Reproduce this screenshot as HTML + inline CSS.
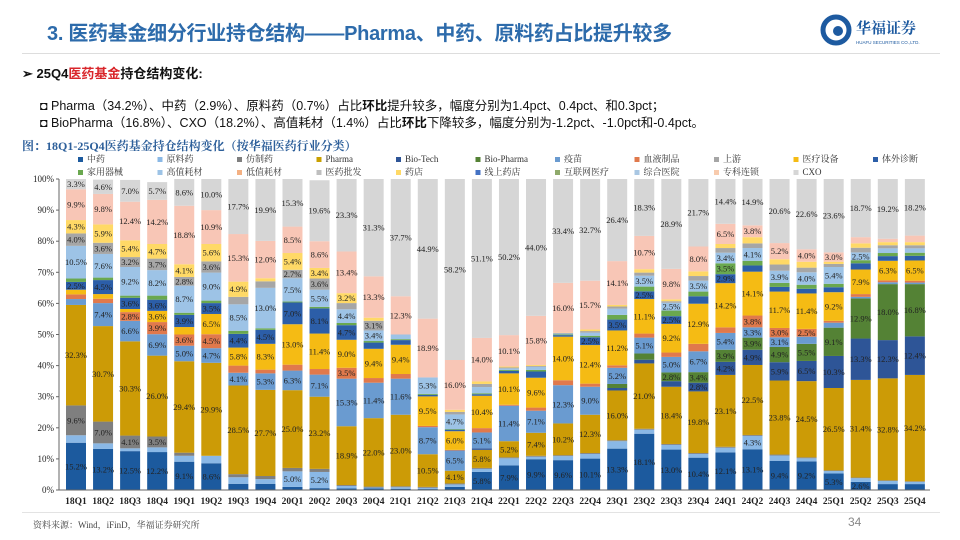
<!DOCTYPE html>
<html><head><meta charset="utf-8">
<style>
body{margin:0;background:#fff;}
#wrap{position:relative;width:960px;height:540px;overflow:hidden;background:#fff;font-family:"Liberation Sans","Noto Sans CJK SC",sans-serif;}
.abs{position:absolute;white-space:nowrap;}
</style></head>
<body>
<div id="wrap">
  <div class="abs" style="left:47px;top:17px;font-size:20px;font-weight:bold;color:#2d6bab;letter-spacing:-0.3px;">3. 医药基金细分行业持仓结构——Pharma、中药、原料药占比提升较多</div>
  <div class="abs" style="left:820px;top:14px;">
    <svg width="120" height="34"><circle cx="16" cy="16" r="13" fill="none" stroke="#1d5aa0" stroke-width="5"/><circle cx="18" cy="17" r="5" fill="#1d5aa0"/>
    <text x="36" y="19" font-size="15" font-weight="bold" fill="#1d5aa0" font-family="Liberation Serif,Noto Serif CJK SC,serif">华福证券</text>
    <text x="36" y="30" font-size="4.5" fill="#1d5aa0" font-family="Liberation Sans,sans-serif">HUAFU SECURITIES CO.,LTD.</text></svg>
  </div>
  <div class="abs" style="left:22px;top:53px;width:918px;height:1px;background:#ddd;"></div>
  <div class="abs" style="left:22px;top:63px;font-size:13px;font-weight:bold;color:#111;">➢ 25Q4<span style="color:#d9262b">医药基金</span>持仓结构变化:</div>
  <div class="abs" style="left:40px;top:95px;font-size:12.5px;color:#111;">◘ Pharma（34.2%）、中药（2.9%）、原料药（0.7%）占比<b>环比</b>提升较多，幅度分别为1.4pct、0.4pct、和0.3pct；</div>
  <div class="abs" style="left:40px;top:112px;font-size:12.5px;color:#111;">◘ BioPharma（16.8%）、CXO（18.2%）、高值耗材（1.4%）占比<b>环比</b>下降较多，幅度分别为-1.2pct、-1.0pct和-0.4pct。</div>
  <div class="abs" style="left:22px;top:137px;font-size:12px;font-weight:bold;color:#2d5f9a;font-family:'Liberation Serif','Noto Serif CJK SC',serif;">图：18Q1-25Q4医药基金持仓结构变化（按华福医药行业分类）</div>
  <svg id="chart" class="abs" style="left:0;top:150px;" width="960" height="360"></svg>
  <div class="abs" style="left:22px;top:512px;width:918px;height:1px;background:#e3e3e3;"></div>
  <div class="abs" style="left:33px;top:518px;font-size:9px;color:#444;font-family:'Liberation Serif','Noto Serif CJK SC',serif;">资料来源：Wind，iFinD，华福证券研究所</div>
  <div class="abs" style="left:848px;top:515px;font-size:12px;color:#888;">34</div>
</div>
<script>
const categories=["18Q1","18Q2","18Q3","18Q4","19Q1","19Q2","19Q3","19Q4","20Q1","20Q2","20Q3","20Q4","21Q1","21Q2","21Q3","21Q4","22Q1","22Q2","22Q3","22Q4","23Q1","23Q2","23Q3","23Q4","24Q1","24Q2","24Q3","24Q4","25Q1","25Q2","25Q3","25Q4"];
const zhongyao=[15.2,13.2,12.5,12.2,9.1,8.6,2.0,2.0,1.0,0.6,0.5,0.5,0.4,0.3,1.0,5.8,7.9,9.9,9.6,10.1,13.3,18.1,13.0,10.4,12.1,13.1,9.4,9.2,5.3,2.6,1.9,1.9];
const yuanliao=[2.4,1.8,0.9,1.5,1.9,2.4,2.1,1.5,5.0,5.2,0.8,0.3,0.5,0.4,0.8,1.0,2.3,0.8,1.3,1.5,2.4,1.3,1.5,1.2,1.5,4.3,1.7,1.0,0.8,1.2,1.0,0.7];
const fangzhi=[9.6,7.0,4.1,3.5,1.0,0,1.0,1.0,1.1,1.0,0.3,0.3,0.3,0.3,0.3,0.3,0.3,0.3,0.3,0.3,0.3,0.3,0.3,0.3,0.3,0.3,0.3,0.3,0.2,0.2,0.2,0.2];
const pharma=[32.3,30.7,30.3,26.0,29.4,29.9,28.5,27.7,25.0,23.2,18.9,22.0,23.0,10.5,4.1,5.8,5.2,7.4,10.2,12.3,16.0,21.0,18.4,19.8,23.1,22.5,23.8,24.5,26.5,31.4,32.8,34.2];
const biotech=[0,0,0,0,0,0,0,0,0,0,0,0,0,0,0,0.5,0,0,0,0,0.8,1.2,1.8,2.8,4.2,4.9,5.9,6.5,10.3,13.3,12.3,12.4];
const biopharma=[0,0,0,0,0,0,0,0,0,0,0,0,0,0,0,0,0,0,0,0,1.3,2.0,2.8,3.4,3.9,3.9,4.9,5.5,9.1,12.9,18.0,16.8];
const vaccine=[1.9,7.4,6.6,6.9,5.0,4.7,4.1,5.3,6.3,7.1,15.3,11.4,11.6,8.7,6.5,5.1,11.4,7.1,12.3,9.0,5.2,5.1,5.0,6.7,5.4,3.3,3.1,2.3,1.6,0.5,0.6,0.5];
const blood=[1.5,1.4,2.8,3.9,3.6,4.5,2.3,1.2,1.9,1.8,3.5,1.5,1.5,0.4,0.2,1.4,0.3,1.0,1.6,1.0,0.8,1.3,1.4,2.4,1.8,3.8,3.0,2.5,0.6,0.9,0.6,0.6];
const device=[1.5,1.5,1.0,3.6,2.4,6.5,5.8,8.3,13.0,11.4,9.0,9.4,9.4,9.5,6.0,10.4,10.1,9.6,14.0,12.4,11.2,11.1,9.2,12.9,14.2,14.1,11.7,11.4,9.2,7.9,6.3,6.5];
const ivd=[2.5,4.5,3.6,3.6,3.9,3.5,4.4,4.5,7.0,8.1,4.7,2.0,1.5,0.5,0.5,0.5,0.8,2.0,0.5,2.5,3.5,2.5,2.5,2.4,2.9,2.0,1.5,1.5,1.6,2.0,1.5,1.5];
const household=[1.1,0.8,0.7,1.3,0.7,0.8,1.0,0.5,0.3,0.5,0.7,0.5,0.3,0.3,0.2,0.3,0.3,0.5,0.2,0.5,1.5,1.5,1.8,1.5,3.5,1.5,1.3,1.3,1.1,1.0,1.0,1.0];
const highvalue=[10.5,7.6,9.2,8.2,8.7,9.0,8.5,13.0,7.5,5.5,4.4,3.4,1.5,5.3,4.7,2.0,0.5,1.0,0.3,1.0,2.0,3.5,2.5,3.5,3.4,4.1,3.9,4.0,5.4,2.5,1.5,1.4];
const upstream=[4.0,3.6,3.2,3.7,2.8,3.6,2.4,2.1,2.7,3.6,2.0,3.1,0,0,0.8,1.0,0.3,0.3,0.2,0.5,0.7,1.0,0.5,1.5,1.5,1.5,2.0,1.5,1.0,1.5,1.0,1.0];
const pharmacy=[4.3,5.9,5.4,4.7,4.1,5.6,4.9,1.0,5.4,3.4,3.2,1.0,0,0,0.7,0.8,0.3,0.3,0.1,0.5,0.5,1.1,0.6,1.5,1.3,2.0,1.7,1.9,0.7,1.4,1.0,1.0];
const specialty=[9.9,9.8,12.4,14.2,18.8,10.9,15.3,12.0,8.5,8.6,13.4,13.3,12.3,18.9,16.0,14.0,10.1,15.8,16.0,15.7,14.1,10.7,9.8,8.0,6.5,3.8,5.2,4.0,3.0,2.0,1.1,2.1];
const cxo=[3.3,4.6,7.0,5.7,8.6,10.0,17.7,19.9,15.3,19.6,23.3,31.3,37.7,44.9,58.2,51.1,50.2,44.0,33.4,32.7,26.4,18.3,28.9,21.7,14.4,14.9,20.6,22.6,23.6,18.7,19.2,18.2];
const yTicks=[0,10,20,30,40,50,60,70,80,90,100];
const legendNames=["中药","原料药","仿制药","Pharma","Bio-Tech","Bio-Pharma","疫苗","血液制品","上游","医疗设备","体外诊断","家用器械","高值耗材","低值耗材","医药批发","药店","线上药店","互联网医疗","综合医院","专科连锁","CXO"];
const legendColors=["#1c5a9e","#8ab8e6","#7f7f7f","#c9a000","#2e5597","#548235","#6a9bd0","#e0794c","#a6a6a6","#f5bb14","#2c5ea8","#6aa84f","#9dc3e6","#f4b183","#bfbfbf","#ffd966","#4472c4","#8faa6b","#a9c7e3","#f8cbad","#d6d6d6"];

const series=[
 {k:"zhongyao",v:zhongyao,c:"#1c5a9e"},{k:"yuanliao",v:yuanliao,c:"#8ab8e6"},{k:"fangzhi",v:fangzhi,c:"#7f7f7f"},
 {k:"pharma",v:pharma,c:"#cc9b06"},{k:"biotech",v:biotech,c:"#2e5597"},{k:"biopharma",v:biopharma,c:"#548235"},
 {k:"vaccine",v:vaccine,c:"#6a9bd0"},{k:"blood",v:blood,c:"#e0794c"},{k:"device",v:device,c:"#f5bb14"},
 {k:"ivd",v:ivd,c:"#2c5ea8"},{k:"household",v:household,c:"#6aa84f"},{k:"highvalue",v:highvalue,c:"#9dc3e6"},
 {k:"upstream",v:upstream,c:"#a6a6a6"},{k:"pharmacy",v:pharmacy,c:"#ffd966"},{k:"specialty",v:specialty,c:"#f8c6b6"},{k:"cxo",v:cxo,c:"#d6d6d6"}];

const NS="http://www.w3.org/2000/svg";
const svg=document.getElementById('chart');
const OY=150; // svg top offset
const y0=490-OY, y1=179-OY;
const x0=62, step=27.06, bw=20;
function yS(p){return y0-(y0-y1)*p/100;}
function xC(i){return x0+14+i*step;}
function mk(tag,attrs){const e=document.createElementNS(NS,tag);for(const a in attrs)e.setAttribute(a,attrs[a]);svg.appendChild(e);return e;}

// legend
legendNames.forEach((n,i)=>{
  const r=Math.floor(i/11), c=i%11;
  const lx=78+c*79.5, ly=11+r*13;
  const sq=mk('rect',{x:lx,y:ly-4,width:5,height:5,fill:legendColors[i]});
  
  
  const t=mk('text',{x:lx+9,y:ly+1,'font-size':'9','fill':'#333','font-family':'Liberation Serif,Noto Serif CJK SC,serif'});
  t.textContent=n;
  
  
});

// bars
categories.forEach((cat,i)=>{
  let acc=0;
  series.forEach(s=>{
    const v=s.v[i]; if(!v) return;
    const top=yS(acc+v), bot=yS(acc);
    const r=mk('rect',{x:xC(i)-bw/2,y:top,width:bw,height:Math.max(0,bot-top),fill:s.c});
    
    
    if(v>=2.5){
      const t=mk('text',{x:xC(i),y:(top+bot)/2+3,'font-size':'8.5','text-anchor':'middle',fill:'#222','font-family':'Liberation Serif,serif'});
      t.textContent=v.toFixed(1)+'%';
      
      
    }
    acc+=v;
  });
  const xl=mk('text',{x:xC(i),y:y0+14,'font-size':'9.5','font-weight':'bold','text-anchor':'middle',fill:'#222','font-family':'Liberation Serif,serif'});
  xl.textContent=cat;
  
  
});

// axes
const ax=mk('line',{x1:x0-3,y1:y1,x2:x0-3,y2:y0,stroke:'#666','stroke-width':1});


const bx=mk('line',{x1:x0-3,y1:y0,x2:930,y2:y0,stroke:'#666','stroke-width':1});


yTicks.forEach(t=>{
  const yy=yS(t);
  const tk=mk('line',{x1:x0-6,y1:yy,x2:x0-3,y2:yy,stroke:'#666'});
  
  
  const lb=mk('text',{x:x0-8,y:yy+3,'font-size':'9','text-anchor':'end',fill:'#222','font-family':'Liberation Serif,serif'});
  lb.textContent=t+'%';
  
  
});
</script>
</body></html>
